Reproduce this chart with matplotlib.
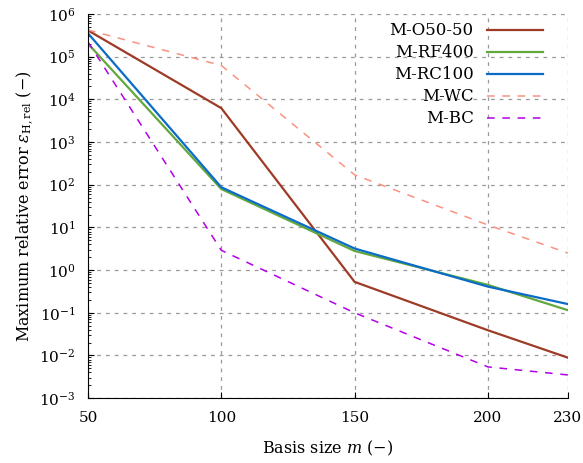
import matplotlib
matplotlib.use('Agg')
import matplotlib.pyplot as plt
from matplotlib.ticker import LogLocator, NullFormatter

plt.rcParams['font.family'] = 'DejaVu Serif'
plt.rcParams['mathtext.fontset'] = 'dejavuserif'
plt.rcParams['xtick.direction'] = 'in'
plt.rcParams['ytick.direction'] = 'in'

# basis sizes and max relative error per model
m = [50, 100, 150, 200, 230]
o50 = [4.1e5, 6.2e3, 0.53, 0.039, 0.0089]
rf400 = [2.0e5, 79, 2.8, 0.45, 0.115]
rc100 = [3.5e5, 87, 3.2, 0.41, 0.16]
wc = [4.2e5, 6.2e4, 170, 11.4, 2.5]
bc = [2.2e5, 2.9, 0.10, 0.0054, 0.0035]

fig, ax = plt.subplots(figsize=(5.83, 4.63), dpi=100)
plt.subplots_adjust(left=0.151, right=0.974, bottom=0.140, top=0.970)

ax.plot(m, o50, color='#9e3b26', lw=1.6, label='M-O50-50')
ax.plot(m, rf400, color='#62a83c', lw=1.6, label='M-RF400')
ax.plot(m, rc100, color='#0b6cc8', lw=1.6, label='M-RC100')
ax.plot(m, wc, color='#fa9280', lw=1.1, ls=(0, (5, 5)), label='M-WC')
ax.plot(m, bc, color='#b300e6', lw=1.1, ls=(0, (5, 5)), label='M-BC')

ax.set_yscale('log')
ax.set_xlim(50, 230)
ax.set_ylim(1e-3, 1e6)
ax.set_xticks(m)
ax.yaxis.set_major_locator(LogLocator(base=10, numticks=20))
ax.yaxis.set_minor_locator(LogLocator(base=10, subs=range(2, 10), numticks=20))
ax.yaxis.set_minor_formatter(NullFormatter())
ax.tick_params(labelsize=11, pad=9)
ax.tick_params(which='major', length=4)
ax.tick_params(which='minor', length=2)

ax.spines['top'].set_visible(False)
ax.spines['right'].set_visible(False)
ax.grid(True, which='major', color='#999999', ls=(0, (3, 4)), lw=0.9)

ax.set_xlabel('Basis size $m$ (\u2212)', fontsize=11.5, labelpad=10)
ax.set_ylabel('Maximum relative error $\\varepsilon_{\\mathrm{H,rel}}$ (\u2212)',
              fontsize=11.5, labelpad=2)

ax.legend(loc='upper right', bbox_to_anchor=(0.948, 0.978), frameon=False,
          markerfirst=False, fontsize=12, handlelength=3.35, labelspacing=0.30,
          borderpad=0, borderaxespad=0)

plt.savefig('out.png', dpi=100)
